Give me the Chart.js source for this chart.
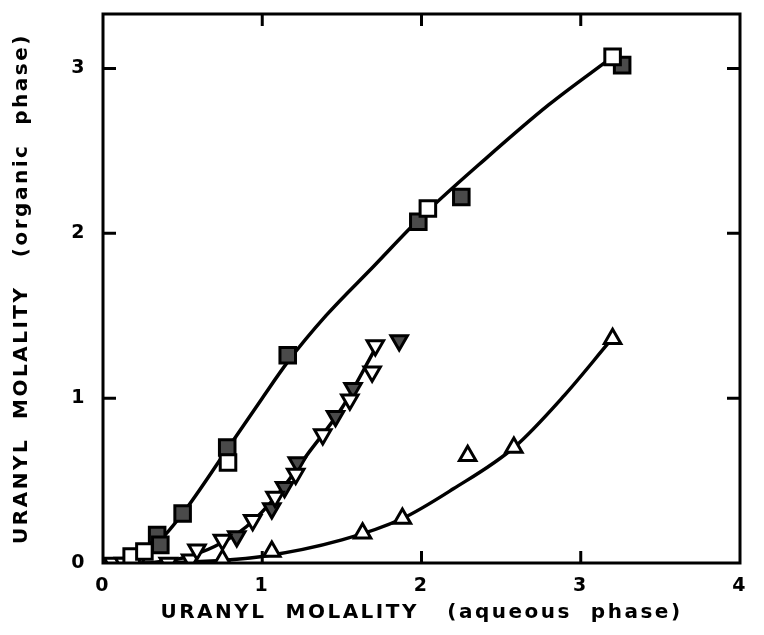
<!DOCTYPE html>
<html>
<head>
<meta charset="utf-8">
<script src="https://cdn.jsdelivr.net/npm/chart.js@4.4.1/dist/chart.umd.min.js"></script>
<style>
  html, body { margin: 0; padding: 0; background: #fff; }
  #wrap { width: 764px; height: 635px; }
</style>
</head>
<body>
<div id="wrap"><canvas id="myChart" width="764" height="635"></canvas></div>
<script>
// tick values
let xTicks = [0, 1, 2, 3, 4];
let yTicks = [0, 1, 2, 3];

// squares: open and hatched points
let openSquareX = [0.18, 0.26, 0.785, 2.04, 3.20];
let openSquareY = [0.04, 0.07, 0.61, 2.15, 3.07];
let hatchSquareX = [0.34, 0.36, 0.50, 0.78, 1.16, 1.98, 2.25, 3.26];
let hatchSquareY = [0.17, 0.11, 0.30, 0.70, 1.26, 2.07, 2.22, 3.02];
let squareCurveX = [0.05, 0.2, 0.35, 0.5, 0.78, 1.0, 1.16, 1.4, 1.7, 2.0, 2.4, 2.8, 3.2];
let squareCurveY = [0, 0.03, 0.13, 0.30, 0.69, 1.0, 1.22, 1.5, 1.8, 2.1, 2.45, 2.78, 3.07];

// inverted triangles
let downTriX = [0.06, 0.13, 0.21, 0.41, 0.55, 0.59, 0.75, 0.94, 1.08, 1.21, 1.38, 1.55, 1.69, 1.71];
let downTriY = [0.0, 0.0, 0.0, 0.0, 0.02, 0.08, 0.14, 0.26, 0.40, 0.54, 0.78, 0.99, 1.16, 1.32];
let downHatchX = [0.84, 1.06, 1.14, 1.22, 1.46, 1.57, 1.86];
let downHatchY = [0.16, 0.33, 0.46, 0.61, 0.89, 1.06, 1.35];
let downCurveX = [0.3, 0.5, 0.7, 0.9, 1.1, 1.3, 1.5, 1.71];
let downCurveY = [0.0, 0.03, 0.10, 0.22, 0.42, 0.68, 0.94, 1.30];

// upright triangles
let upTriX = [0.75, 1.06, 1.63, 1.88, 2.29, 2.58, 3.20];
let upTriY = [0.02, 0.07, 0.18, 0.27, 0.65, 0.70, 1.36];
let upCurveX = [0, 0.5, 1.0, 1.5, 1.88, 2.2, 2.58, 2.9, 3.17];
let upCurveY = [0, 0.005, 0.04, 0.14, 0.27, 0.45, 0.70, 1.02, 1.33];

let toPoints = (xs, ys) => xs.map((x, i) => ({ x: x, y: ys[i] }));

let curve = (xs, ys) => ({
  data: toPoints(xs, ys),
  showLine: true,
  borderColor: "#000",
  borderWidth: 3.5,
  pointRadius: 0,
  cubicInterpolationMode: "monotone",
  order: 2
});

let marks = (xs, ys, style, fill, radius, rot) => ({
  data: toPoints(xs, ys),
  showLine: false,
  pointStyle: style,
  pointRadius: radius,
  pointRotation: rot || 0,
  pointBackgroundColor: fill,
  pointBorderColor: "#000",
  pointBorderWidth: 3,
  order: 1
});

let frame = {
  id: "frame",
  beforeDraw: chart => {
    chart.ctx.letterSpacing = "2.5px";
  },
  afterDraw: chart => {
    let ctx = chart.ctx;
    let a = chart.chartArea;
    let xs = chart.scales.x;
    let ys = chart.scales.y;
    ctx.save();
    ctx.strokeStyle = "#000";
    ctx.lineWidth = 3;
    ctx.strokeRect(a.left, a.top, a.right - a.left, a.bottom - a.top);
    ctx.beginPath();
    xTicks.slice(1, -1).forEach(v => {
      let px = xs.getPixelForValue(v);
      ctx.moveTo(px, a.bottom); ctx.lineTo(px, a.bottom - 12);
      ctx.moveTo(px, a.top); ctx.lineTo(px, a.top + 12);
    });
    yTicks.slice(1).forEach(v => {
      let py = ys.getPixelForValue(v);
      ctx.moveTo(a.left, py); ctx.lineTo(a.left + 13, py);
      ctx.moveTo(a.right, py); ctx.lineTo(a.right - 13, py);
    });
    ctx.stroke();
    ctx.restore();
  }
};

let font = { family: "'DejaVu Sans', sans-serif", weight: "bold", size: 19 };
let titleFont = { family: "'DejaVu Sans', sans-serif", weight: "bold", size: 20 };

let ctx = document.getElementById("myChart").getContext("2d");
let myChart = new Chart(ctx, {
  type: "scatter",
  data: {
    datasets: [
      marks(openSquareX, openSquareY, "rect", "#fff", 11),
      marks(hatchSquareX, hatchSquareY, "rect", "#4a4a4a", 11),
      marks(downTriX, downTriY, "triangle", "#fff", 9.5, 180),
      marks(downHatchX, downHatchY, "triangle", "#4a4a4a", 9.5, 180),
      marks(upTriX, upTriY, "triangle", "#fff", 9.5),
      curve(squareCurveX, squareCurveY),
      curve(downCurveX, downCurveY),
      curve(upCurveX, upCurveY)
    ]
  },
  options: {
    responsive: false,
    animation: false,
    layout: { padding: { top: 10, right: 24, left: 0, bottom: 0 } },
    plugins: {
      legend: { display: false },
      tooltip: { enabled: false }
    },
    scales: {
      x: {
        type: "linear",
        min: 0,
        max: 4,
        afterBuildTicks: scale => { scale.ticks = xTicks.map(v => ({ value: v })); },
        afterFit: scale => {
          scale.height = 72;
          scale.paddingLeft = 0;
          scale.paddingRight = 0;
        },
        grid: { display: false, drawTicks: false },
        border: { display: false },
        ticks: { color: "#000", font: font, padding: 12 },
        title: {
          display: true,
          text: "URANYL  MOLALITY   (aqueous  phase)",
          color: "#000",
          font: titleFont,
          padding: { top: 0, bottom: 10 }
        }
      },
      y: {
        type: "linear",
        min: 0,
        max: 3.33,
        afterBuildTicks: scale => { scale.ticks = yTicks.map(v => ({ value: v })); },
        afterFit: scale => {
          scale.width = 103;
          scale.paddingTop = 0;
          scale.paddingBottom = 0;
        },
        grid: { display: false, drawTicks: false },
        border: { display: false },
        ticks: { color: "#000", font: font, padding: 16 },
        title: {
          display: true,
          text: "URANYL  MOLALITY   (organic  phase)",
          color: "#000",
          font: titleFont,
          padding: { top: 10, bottom: 0 }
        }
      }
    }
  },
  plugins: [frame]
});
</script>
</body>
</html>
